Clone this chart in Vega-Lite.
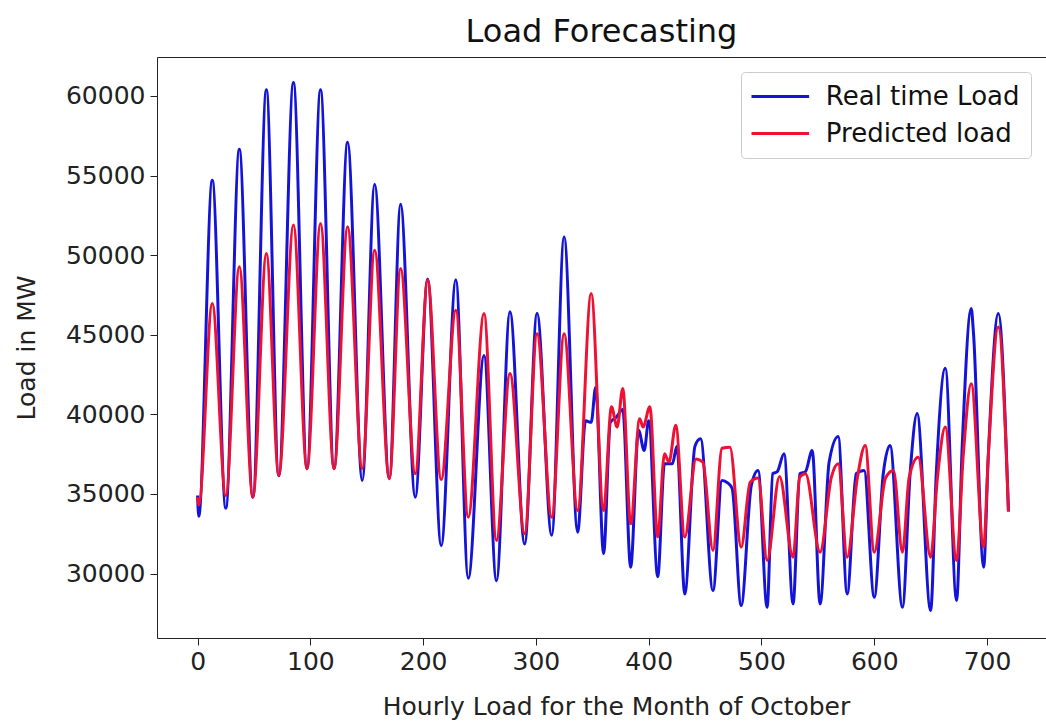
{
"$schema": "https://vega.github.io/schema/vega-lite/v6.json",
"width": 889, "height": 581,
"autosize": {"type": "none"},
"padding": {"left": 157, "top": 57, "right": 0, "bottom": 84},
"background": "white",
"config": {"view": {"stroke": null}, "font": "DejaVu Sans"},
"title": {"text": "Load Forecasting", "fontSize": 32, "font": "DejaVu Sans", "fontWeight": "normal", "color": "#111", "anchor": "middle", "offset": 8},
"datasets": {
"real": [
{"h":0,"v":34900},{"h":1,"v":33600},{"h":13,"v":54700},{"h":25,"v":34100},{"h":37,"v":56650},{"h":49,"v":34800},{"h":61,"v":60400},{"h":72,"v":36150},{"h":85,"v":60850},{"h":97,"v":36600},{"h":109,"v":60400},{"h":121,"v":36600},{"h":133,"v":57100},{"h":146,"v":35850},{"h":157,"v":54450},{"h":170,"v":35950},{"h":180,"v":53200},{"h":193,"v":34800},{"h":204,"v":48500},{"h":216,"v":31750},{"h":229,"v":48450},{"h":240,"v":29700},{"h":254,"v":43700},{"h":265,"v":29550},{"h":277,"v":46450},{"h":290,"v":31850},{"h":301,"v":46350},{"h":314,"v":32400},{"h":325,"v":51150},{"h":337,"v":32600},{"h":344,"v":39600},{"h":349,"v":39500},{"h":353,"v":41700},{"h":360,"v":31250},{"h":366,"v":39500},{"h":371,"v":39800},{"h":377,"v":40300},{"h":384,"v":30400},{"h":391,"v":39000},{"h":396,"v":37730},{"h":400,"v":39600},{"h":408,"v":29800},{"h":414,"v":36900},{"h":421,"v":36900},{"h":425,"v":38000},{"h":432,"v":28720},{"h":441,"v":38000},{"h":446,"v":38460},{"h":457,"v":28930},{"h":465,"v":35850},{"h":470,"v":35700},{"h":474,"v":35340},{"h":482,"v":27990},{"h":491,"v":35540},{"h":497,"v":36480},{"h":505,"v":27880},{"h":510,"v":36270},{"h":514,"v":36400},{"h":520,"v":37520},{"h":528,"v":28090},{"h":534,"v":36270},{"h":539,"v":36400},{"h":545,"v":37730},{"h":552,"v":28090},{"h":560,"v":37000},{"h":568,"v":38610},{"h":576,"v":28720},{"h":584,"v":36270},{"h":591,"v":36480},{"h":600,"v":28510},{"h":608,"v":36270},{"h":614,"v":38050},{"h":625,"v":27880},{"h":632,"v":36480},{"h":638,"v":40050},{"h":650,"v":27670},{"h":655,"v":36300},{"h":663,"v":42900},{"h":673,"v":28300},{"h":678,"v":38000},{"h":686,"v":46650},{"h":688,"v":45100},{"h":697,"v":30400},{"h":701,"v":37200},{"h":710,"v":46330},{"h":719,"v":33900}
],
"pred": [
{"h":0,"v":34800},{"h":1,"v":34300},{"h":13,"v":46960},{"h":25,"v":34900},{"h":37,"v":49270},{"h":49,"v":34800},{"h":61,"v":50100},{"h":72,"v":36160},{"h":85,"v":51890},{"h":97,"v":36580},{"h":109,"v":51990},{"h":121,"v":36580},{"h":133,"v":51780},{"h":146,"v":36600},{"h":157,"v":50310},{"h":170,"v":35960},{"h":180,"v":49160},{"h":193,"v":36270},{"h":204,"v":48430},{"h":216,"v":35900},{"h":229,"v":46540},{"h":240,"v":33540},{"h":254,"v":46330},{"h":265,"v":32080},{"h":277,"v":42560},{"h":290,"v":32500},{"h":301,"v":45070},{"h":314,"v":33540},{"h":325,"v":45070},{"h":337,"v":33960},{"h":349,"v":47590},{"h":360,"v":33960},{"h":367,"v":40470},{"h":372,"v":39200},{"h":377,"v":41630},{"h":384,"v":33120},{"h":392,"v":39730},{"h":395,"v":39200},{"h":401,"v":40470},{"h":408,"v":32290},{"h":414,"v":37520},{"h":418,"v":37000},{"h":424,"v":39310},{"h":432,"v":32290},{"h":442,"v":37200},{"h":448,"v":37000},{"h":457,"v":31450},{"h":465,"v":37870},{"h":472,"v":37940},{"h":482,"v":31660},{"h":490,"v":35740},{"h":497,"v":36000},{"h":505,"v":30820},{"h":516,"v":36100},{"h":528,"v":31030},{"h":534,"v":36060},{"h":539,"v":36270},{"h":552,"v":31340},{"h":562,"v":36060},{"h":568,"v":36900},{"h":576,"v":31030},{"h":585,"v":36000},{"h":592,"v":38050},{"h":600,"v":31340},{"h":610,"v":36000},{"h":617,"v":36480},{"h":625,"v":31340},{"h":631,"v":36060},{"h":639,"v":37310},{"h":650,"v":31030},{"h":656,"v":36000},{"h":663,"v":39200},{"h":673,"v":30820},{"h":679,"v":37500},{"h":686,"v":41930},{"h":697,"v":31660},{"h":701,"v":37200},{"h":710,"v":45490},{"h":719,"v":33900}
]
},
"layer": [
{
"data": {"name": "real"},
"transform": [{"calculate": "'Real time Load'", "as": "series"}],
"mark": {"type": "line", "strokeWidth": 3, "interpolate": "monotone"},
"encoding": {
"x": {"field": "h", "type": "quantitative", "scale": {"domain": [-36, 752.3], "nice": false, "zero": false},
"axis": {"title": "Hourly Load for the Month of October", "values": [0,100,200,300,400,500,600,700], "format": "d", "grid": false, "tickSize": 7, "tickColor": "#222", "domainColor": "#222", "labelColor": "#222", "titleColor": "#222", "labelFontSize": 25, "titleFontSize": 25, "titleFontWeight": "normal", "labelPadding": 4, "titlePadding": 20, "titleX": 459, "labelFlush": false, "labelFont": "DejaVu Sans", "titleFont": "DejaVu Sans"}},
"y": {"field": "v", "type": "quantitative", "scale": {"domain": [25950, 62450], "nice": false, "zero": false},
"axis": {"title": "Load in MW", "values": [30000,35000,40000,45000,50000,55000,60000], "format": "d", "grid": false, "tickSize": 7, "tickColor": "#222", "domainColor": "#222", "labelColor": "#222", "titleColor": "#222", "labelFontSize": 25, "titleFontSize": 25, "titleFontWeight": "normal", "labelPadding": 5, "titlePadding": 26, "labelFont": "DejaVu Sans", "titleFont": "DejaVu Sans"}},
"color": {"field": "series", "type": "nominal",
"scale": {"domain": ["Real time Load", "Predicted load"], "range": ["#1414d8", "#ee1133"]},
"legend": {"title": null, "orient": "none", "legendX": 584, "legendY": 15, "symbolType": "M-2.4,0H2.4", "symbolSize": 576, "symbolStrokeWidth": 3, "labelFontSize": 26, "labelLimit": 0, "labelFont": "DejaVu Sans", "labelColor": "#111", "padding": 11, "strokeColor": "#cccccc", "fillColor": "rgba(255,255,255,0.8)", "cornerRadius": 4, "rowPadding": 10, "symbolOffset": 14.8, "labelOffset": 32}}
}
},
{
"data": {"name": "pred"},
"transform": [{"calculate": "'Predicted load'", "as": "series"}],
"mark": {"type": "line", "strokeWidth": 3, "interpolate": "monotone"},
"encoding": {
"x": {"field": "h", "type": "quantitative", "axis": {"orient": "top", "labels": false, "ticks": false, "title": null, "grid": false, "domain": true, "domainColor": "#222"}},
"y": {"field": "v", "type": "quantitative"},
"color": {"field": "series", "type": "nominal"}
}
}
],
"resolve": {"axis": {"x": "independent"}}
}
